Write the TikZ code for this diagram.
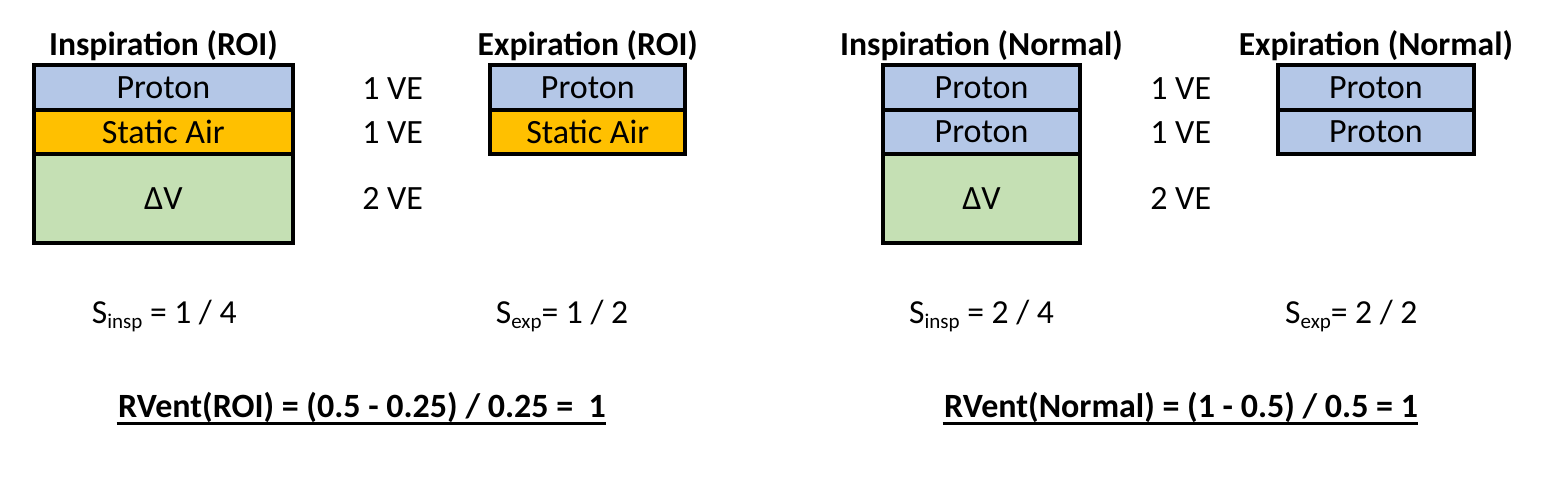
\documentclass[tikz,border=0pt]{standalone}
\usepackage{fontspec}
\setmainfont{Carlito}
\definecolor{protonblue}{HTML}{B4C7E7}
\definecolor{airorange}{HTML}{FFC000}
\definecolor{dvgreen}{HTML}{C5E0B4}
\begin{document}
\begin{tikzpicture}[x=1pt,y=-1pt,
  cell/.style={draw=black, line width=4pt, inner sep=0pt, minimum width=#1, anchor=center},
  txt/.style={font=\fontsize{34}{40}\selectfont, inner sep=0pt},
  ttl/.style={font=\fontsize{33.6}{40}\selectfont\bfseries, inner sep=0pt, anchor=base},
  ve/.style={font=\fontsize{34}{40}\selectfont, inner sep=0pt, anchor=center},
  sl/.style={font=\fontsize{33.6}{40}\selectfont, inner sep=0pt, anchor=base west},
  rv/.style={font=\fontsize{34}{40}\selectfont\bfseries, inner sep=0pt, anchor=base west},
  uline/.style={line width=3.3pt}]
\newcommand{\subtxt}[1]{\raisebox{-5pt}{\fontsize{21}{21}\selectfont #1}}
\fill[white] (0,0) rectangle (1560,484);
\useasboundingbox (0,0) rectangle (1560,484);
% titles
\node[ttl] (t1) at (163.4,56) {Inspiration (ROI)};
\node[ttl] (t2) at (587.8,56) {Expiration (ROI)};
\node[ttl] (t3) at (981.5,56) {Inspiration (Normal)};
\node[ttl] (t4) at (1375.9,56) {Expiration (Normal)};
% box A
\node[cell=258.7pt, minimum height=44.7pt, fill=protonblue, txt] (a1) at (163.35,87.65) {Proton};
\node[cell=258.7pt, minimum height=43.7pt, fill=airorange, txt] (a2) at (163.35,131.85) {Static Air};
\node[cell=258.7pt, minimum height=89pt, fill=dvgreen, txt] (a3) at (163.35,198.2) {ΔV};
% box B
\node[cell=195pt, minimum height=44.7pt, fill=protonblue, txt] (b1) at (587.8,87.65) {Proton};
\node[cell=195pt, minimum height=43.7pt, fill=airorange, txt] (b2) at (587.8,131.85) {Static Air};
% box C
\node[cell=196.4pt, minimum height=44.7pt, fill=protonblue, txt] (c1) at (981.5,87.65) {Proton};
\node[cell=196.4pt, minimum height=43.7pt, fill=protonblue, txt] (c2) at (981.5,131.85) {Proton};
\node[cell=196.4pt, minimum height=89pt, fill=dvgreen, txt] (c3) at (981.5,198.2) {ΔV};
% box D
\node[cell=196.3pt, minimum height=44.7pt, fill=protonblue, txt] (d1) at (1375.85,87.65) {Proton};
\node[cell=196.3pt, minimum height=43.7pt, fill=protonblue, txt] (d2) at (1375.85,131.85) {Proton};
% VE labels
\node[ve] (v1) at (392.7,88.5) {1 VE};
\node[ve] (v2) at (392.7,132.5) {1 VE};
\node[ve] (v3) at (392.7,198.5) {2 VE};
\node[ve] (v4) at (1180.7,88.5) {1 VE};
\node[ve] (v5) at (1180.7,132.5) {1 VE};
\node[ve] (v6) at (1180.7,198.5) {2 VE};
% S labels
\node[sl] (s1) at (91.7,323) {S\subtxt{insp} = 1 / 4};
\node[sl] (s2) at (495.7,323) {S\subtxt{exp}= 1 / 2};
\node[sl] (s3) at (909,323) {S\subtxt{insp} = 2 / 4};
\node[sl] (s4) at (1285,323) {S\subtxt{exp}= 2 / 2};
% RVent
\node[rv] (r1) at (118,417) {RVent(ROI) = (0.5 - 0.25) / 0.25 =\ \ 1};
\node[rv] (r2) at (944,417) {RVent(Normal) = (1 - 0.5) / 0.5 = 1};
\draw[uline] ([xshift=-1.5pt,yshift=-6.5pt]r1.base west) -- ([yshift=-6.5pt]r1.base east);
\draw[uline] ([xshift=-1.5pt,yshift=-6.5pt]r2.base west) -- ([yshift=-6.5pt]r2.base east);
\end{tikzpicture}
\end{document}
